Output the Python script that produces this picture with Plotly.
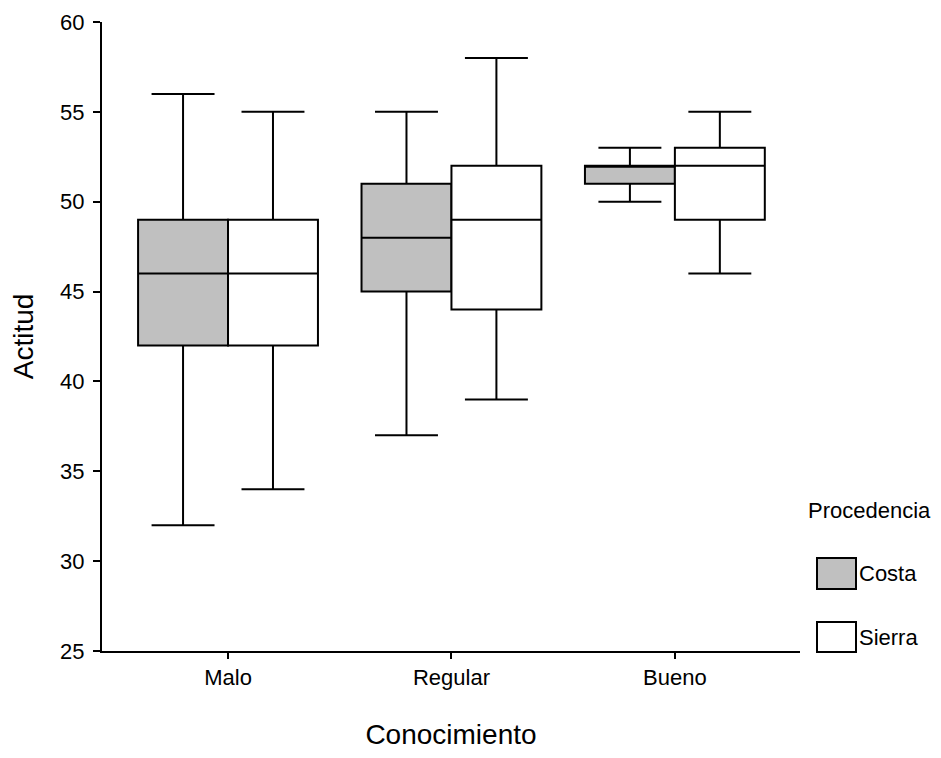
import plotly.graph_objects as go

categories = ["Malo", "Regular", "Bueno"]
groups = ["Costa", "Sierra"]
group_colors = {"Costa": "#c0c0c0", "Sierra": "#ffffff"}

costa_lower = [32, 37, 50]
costa_q1 = [42, 45, 51]
costa_median = [46, 48, 52]
costa_q3 = [49, 51, 52]
costa_upper = [56, 55, 53]

sierra_lower = [34, 39, 46]
sierra_q1 = [42, 44, 49]
sierra_median = [46, 49, 52]
sierra_q3 = [49, 52, 53]
sierra_upper = [55, 58, 55]

stats = {
    "Costa": (costa_lower, costa_q1, costa_median, costa_q3, costa_upper),
    "Sierra": (sierra_lower, sierra_q1, sierra_median, sierra_q3, sierra_upper),
}

y_ticks = [25, 30, 35, 40, 45, 50, 55, 60]

FONT = "Liberation Sans, Arial, Helvetica, sans-serif"

fig = go.Figure()
for g in groups:
    lo, q1, med, q3, hi = stats[g]
    fig.add_trace(go.Box(
        name=g,
        x=categories,
        lowerfence=lo, q1=q1, median=med, q3=q3, upperfence=hi,
        fillcolor=group_colors[g],
        line=dict(color="black", width=2),
        whiskerwidth=0.7,
        boxpoints=False,
        offsetgroup=g,
        showlegend=False,
        hoverinfo="skip",
    ))

# page body has an 8px margin: plot area at page x 102..800, y 22..651
L, T = 94, 14
PW, PH = 698, 629
FW, FH = 925, 742

fig.update_layout(
    width=FW, height=FH,
    margin=dict(l=L, r=FW - L - PW, t=T, b=FH - T - PH),
    plot_bgcolor="white", paper_bgcolor="white",
    boxmode="group", boxgap=0.195, boxgroupgap=0,
    font=dict(family=FONT, color="black", size=22),
    xaxis=dict(
        type="category", categoryorder="array", categoryarray=categories,
        range=[-0.564, 2.56],
        automargin=False,
        showline=True, linecolor="black", linewidth=2,
        ticks="outside", ticklen=6, tickwidth=1.5, tickcolor="black",
        showgrid=False, zeroline=False,
        tickfont=dict(size=22),
        title=dict(text="Conocimiento", font=dict(size=28), standoff=49),
    ),
    yaxis=dict(
        range=[25, 60], tickvals=y_ticks,
        automargin=False,
        showline=True, linecolor="black", linewidth=2,
        ticks="outside", ticklen=7, tickwidth=1.5, tickcolor="black",
        ticklabelstandoff=4,
        showgrid=False, zeroline=False,
        tickfont=dict(size=22),
        title=dict(text="Actitud", font=dict(size=28), standoff=22),
    ),
)

# Custom legend (positions in page pixels converted to paper coordinates)
def px(x):
    return (x - 102) / PW
def py(y):
    return (651 - y) / PH

fig.add_annotation(text="Procedencia", x=px(806), y=py(510), xref="paper", yref="paper",
                   xanchor="left", yanchor="middle", showarrow=False,
                   font=dict(size=22, family=FONT, color="black"))
legend_rows = {"Costa": (558, 589), "Sierra": (622, 652)}
for g in groups:
    top, bot = legend_rows[g]
    fig.add_shape(type="rect", xref="paper", yref="paper",
                  x0=px(817), x1=px(856), y0=py(bot), y1=py(top),
                  fillcolor=group_colors[g], line=dict(color="black", width=2))
    fig.add_annotation(text=g, x=px(857), y=py((top + bot) / 2), xref="paper", yref="paper",
                       xanchor="left", yanchor="middle", showarrow=False,
                       font=dict(size=22, family=FONT, color="black"))

fig.write_html("out.html")
